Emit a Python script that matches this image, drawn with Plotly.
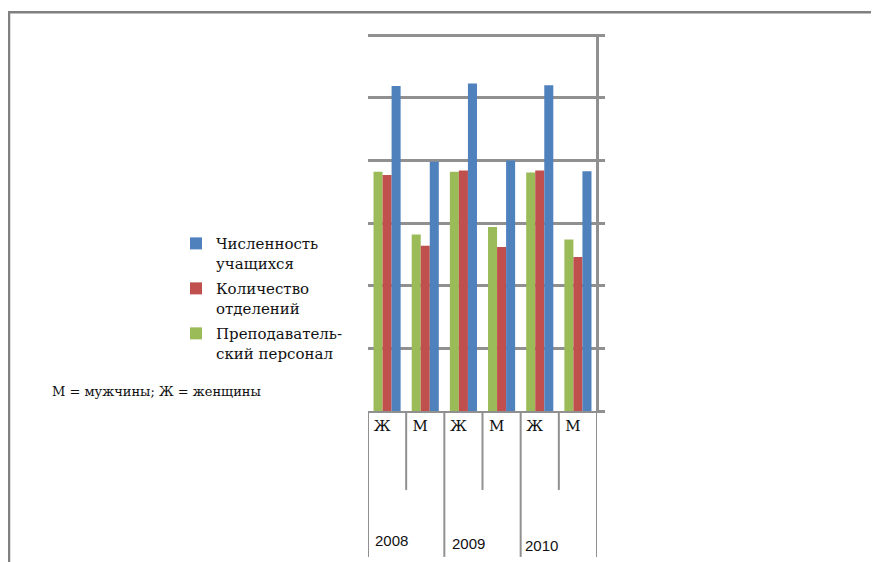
import plotly.graph_objects as go

# ---- data ----
categories = ["Ж", "М", "Ж", "М", "Ж", "М"]
years = ["2008", "2009", "2010"]
staff = [3.82, 2.82, 3.82, 2.94, 3.81, 2.74]      # Преподавательский персонал (green)
departments = [3.77, 2.64, 3.84, 2.62, 3.84, 2.46]  # Количество отделений (red)
students = [5.19, 3.98, 5.23, 4.00, 5.20, 3.83]     # Численность учащихся (blue)
series_names = ["Преподаватель-<br>ский персонал", "Количество<br>отделений", "Численность<br>учащихся"]
note_text = "М = мужчины; Ж = женщины"

# ---- layout geometry (pixels, reference coordinates) ----
W, H = 879, 562
OFF = 8  # page body margin
L, R, T, B = 368, 597, 35, 411
pw, ph = R - L, B - T
YMAX = 6.02
T_eff = B - ph * YMAX / 6.0

def px(x):
    return (x - L) / pw

def py(y):
    return (B - y) / (B - T_eff)

GRID = "#909090"
serif = "DejaVu Serif"
sans = "Liberation Sans, Arial, sans-serif"

xs = list(range(len(categories)))
fig = go.Figure()
colors = ["#9BBB59", "#C0504D", "#4F81BD"]
ranks = [3, 2, 1]
for k, (name, vals, c) in enumerate(zip(series_names, [staff, departments, students], colors)):
    fig.add_trace(go.Bar(x=xs, y=vals, name=name, legendgroup=f"g{k}", legendrank=ranks[k],
                         marker=dict(color=c, line=dict(width=0))))

shapes = []
for i in range(len(categories) + 1):
    xb = i - 0.5
    long_line = (i % 2 == 0)
    y_end = py(557) if long_line else py(490)
    y_start = 0 if i < len(categories) else py(35)
    shapes.append(dict(type="line", xref="x", yref="paper", x0=xb, x1=xb, y0=y_start, y1=y_end,
                       line=dict(color=GRID, width=2)))
shapes.append(dict(type="line", xref="paper", yref="paper", x0=px(8), x1=px(890), y0=py(12), y1=py(12),
                   line=dict(color="#808080", width=2.5)))
shapes.append(dict(type="line", xref="paper", yref="paper", x0=px(9), x1=px(9), y0=py(11), y1=py(575),
                   line=dict(color="#808080", width=2.5)))

annotations = []
year_pos = [(-0.5, 5, 541), (1.5, 6, 544), (3.5, 2, 546)]
for yr, (xv, xs_, yc) in zip(years, year_pos):
    annotations.append(dict(text=yr, xref="x", yref="paper", x=xv, y=py(yc), xshift=xs_,
                            xanchor="left", yanchor="middle", showarrow=False,
                            font=dict(family=sans, size=15, color="#111")))
annotations.append(dict(text=note_text, xref="paper", yref="paper", x=px(50), y=py(391),
                        xanchor="left", yanchor="middle", showarrow=False,
                        font=dict(family=serif, size=13, color="#111")))

fig.update_layout(
    width=W, height=H,
    margin=dict(l=L - OFF, r=W - R + OFF, t=T_eff - OFF, b=H - B + OFF, pad=0),
    paper_bgcolor="white", plot_bgcolor="white",
    barmode="group", bargap=0.29, bargroupgap=0,
    showlegend=True,
    legend=dict(x=px(176), y=py(227), xanchor="left", yanchor="top",
                traceorder="grouped", valign="top",
                font=dict(family=serif, size=15, color="#111"),
                bgcolor="rgba(0,0,0,0)", tracegroupgap=3, itemwidth=30),
    xaxis=dict(range=[-0.5, len(categories) - 0.5], tickmode="array", tickvals=xs, ticktext=categories,
               showgrid=False, zeroline=False, showline=True, linecolor=GRID, linewidth=2,
               ticks="", tickfont=dict(family=serif, size=15, color="#111"),
               ticklabelshift=-5, ticklabelstandoff=0, fixedrange=True),
    yaxis=dict(range=[0, YMAX], dtick=1, side="right", showticklabels=False,
               showgrid=True, gridcolor=GRID, gridwidth=2.5,
               ticks="outside", ticklen=6, tickwidth=2.5, tickcolor=GRID,
               showline=True, linecolor=GRID, linewidth=2, zeroline=False, fixedrange=True),
    shapes=shapes, annotations=annotations,
)

fig.write_html("out.html")
